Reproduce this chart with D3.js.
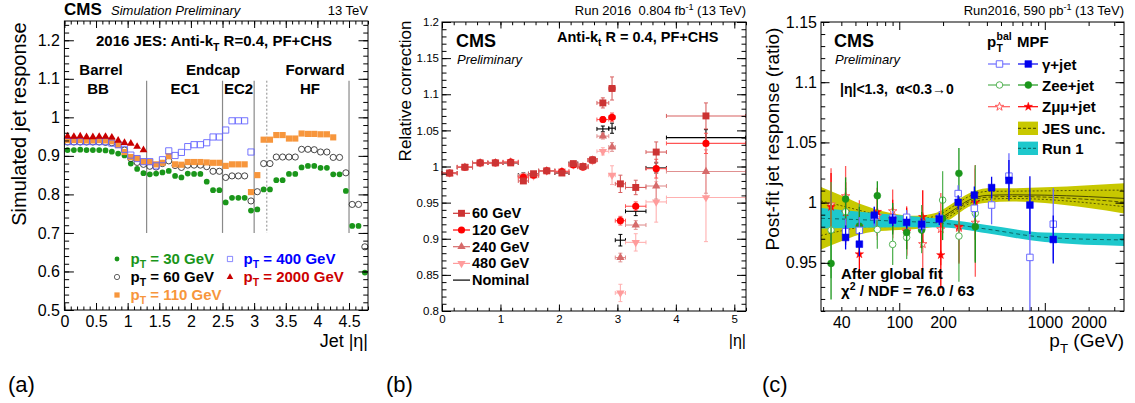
<!DOCTYPE html>
<html>
<head>
<meta charset="utf-8">
<script src="https://cdn.jsdelivr.net/npm/d3@7"></script>
<style>
  body { margin: 0; background: #fff; }
  text { font-family: "Liberation Sans", Arial, Helvetica, sans-serif; }
</style>
</head>
<body>
<svg id="fig" width="1135" height="403"></svg>
<script>
// ---------- (a) simulated response vs |eta| ----------
const etaA = [0.05, 0.15, 0.25, 0.35, 0.45, 0.55, 0.65, 0.75, 0.85, 0.95, 1.05, 1.15, 1.25, 1.35, 1.45, 1.55,
  1.65, 1.75, 1.85, 1.95, 2.05, 2.15, 2.25, 2.35, 2.45, 2.55, 2.65, 2.75, 2.85, 2.95, 3.05, 3.15,
  3.25, 3.35, 3.45, 3.55, 3.65, 3.75, 3.85, 3.95, 4.05, 4.15, 4.25, 4.35, 4.45, 4.55, 4.65, 4.75];
const resp30 = [0.915, 0.915, 0.916, 0.915, 0.915, 0.915, 0.914, 0.911, 0.906, 0.901, 0.880, 0.866, 0.855, 0.852, 0.854, 0.857,
  0.861, 0.848, 0.844, 0.854, 0.853, 0.853, 0.833, 0.811, 0.811, 0.779, 0.791, 0.791, 0.791, 0.758, 0.761, 0.813,
  0.813, 0.837, 0.837, 0.853, 0.853, 0.870, 0.874, 0.874, 0.869, 0.869, 0.852, 0.852, 0.809, 0.718, 0.718, 0.597];
const resp60 = [0.936, 0.936, 0.936, 0.936, 0.936, 0.936, 0.935, 0.934, 0.930, 0.915, 0.893, 0.883, 0.878, 0.873, 0.871, 0.880,
  0.887, 0.875, 0.870, 0.876, 0.876, 0.876, 0.872, 0.860, 0.860, 0.844, 0.848, 0.848, 0.848, 0.783, 0.807, 0.880,
  0.880, 0.897, 0.897, 0.897, 0.897, 0.917, 0.917, 0.916, 0.910, 0.910, 0.896, 0.896, 0.856, 0.774, 0.774, 0.664];
const resp110 = [0.941, 0.941, 0.941, 0.940, 0.940, 0.941, 0.940, 0.938, 0.928, 0.910, 0.897, 0.893, 0.885, 0.884, 0.878, 0.882,
  0.899, 0.878, 0.877, 0.884, 0.884, 0.884, 0.883, 0.882, 0.882, 0.874, 0.878, 0.878, 0.878, 0.806, 0.850, 0.942,
  0.942, 0.954, 0.954, 0.945, 0.945, 0.958, 0.957, 0.957, 0.956, 0.956, 0.948];
const resp400 = [0.937, 0.937, 0.937, 0.937, 0.937, 0.937, 0.937, 0.933, 0.929, 0.917, 0.902, 0.893, 0.885, 0.885, 0.874, 0.890,
  0.913, 0.901, 0.909, 0.924, 0.929, 0.929, 0.934, 0.949, 0.949, 0.967, 0.991, 0.991, 0.991, 0.910];
const resp2000 = [0.951, 0.950, 0.951, 0.949, 0.949, 0.950, 0.950, 0.948, 0.940, 0.934, 0.932, 0.924, 0.915];
const regionLines = [1.3, 2.5, 3.0, 4.5];
const regionDotted = [3.2];

// ---------- (b) relative correction vs |eta| ----------
const etaEdgesB = [0, 0.261, 0.522, 0.783, 1.044, 1.305, 1.479, 1.653, 1.930, 2.172, 2.322, 2.500, 2.650, 2.853, 2.964, 3.139, 3.489, 3.839, 5.191];
const corr60  = [0.991, 0.999, 1.005, 1.005, 1.005, 0.980, 0.990, 0.994, 0.991, 1.004, 1.000, 1.009, 1.088, 1.108, 0.976, 0.971, 1.020, 1.070];
const err60   = [0.002, 0.002, 0.002, 0.002, 0.003, 0.003, 0.002, 0.002, 0.002, 0.003, 0.003, 0.004, 0.007, 0.016, 0.012, 0.010, 0.014, 0.018];
const corr120 = [0.991, 0.999, 1.005, 1.005, 1.006, 0.985, 0.988, 0.994, 0.993, 1.002, 0.999, 1.009, 1.065, 1.068, 0.925, 0.945, 0.997, 1.032];
const err120  = [0.002, 0.002, 0.002, 0.002, 0.003, 0.003, 0.002, 0.002, 0.002, 0.003, 0.003, 0.004, 0.004, 0.006, 0.006, 0.006, 0.013, 0.014];
const corr240 = [0.990, 0.999, 1.005, 1.005, 1.006, 0.986, 0.987, 0.994, 0.993, 1.002, 1.000, 1.009, 1.042, 1.027, 0.874, 0.919, 0.973, 0.993];
const err240  = [0.002, 0.002, 0.002, 0.002, 0.003, 0.003, 0.002, 0.002, 0.002, 0.003, 0.003, 0.004, 0.004, 0.006, 0.006, 0.006, 0.018, 0.030];
const corr480 = [0.991, 1.000, 1.005, 1.006, 1.007, 0.987, 0.987, 0.994, 0.994, 1.002, 1.000, 1.008, 1.021, 0.988, 0.825, 0.895, 0.951, 0.957];
const err480  = [0.002, 0.002, 0.002, 0.002, 0.003, 0.003, 0.002, 0.002, 0.002, 0.003, 0.003, 0.004, 0.005, 0.013, 0.012, 0.012, 0.028, 0.061];
const corrNom = [0.991, 0.999, 1.005, 1.005, 1.005, 0.988, 0.990, 0.994, 0.991, 1.004, 1.000, 1.009, 1.052, 1.053, 0.898, 0.938, 0.998, 1.040];
const errNom  = [0.002, 0.002, 0.002, 0.002, 0.003, 0.003, 0.002, 0.002, 0.002, 0.003, 0.003, 0.004, 0.004, 0.007, 0.008, 0.006, 0.007, 0.011];

// ---------- (c) post-fit response vs pT ----------
const ptGamma = [42.8, 53.2, 67.4, 90.1, 112.4, 142.5, 188.4, 254, 328, 431, 567, 790, 1143];
const mpfGamma = [0.9711, 0.9655, 0.9896, 0.9855, 0.9836, 0.9820, 0.9864, 1.0002, 1.0063, 1.0125, 1.0185, 0.9980, 0.9694];
const mpfGammaErr = [0.010, 0.010, 0.007, 0.005, 0.005, 0.005, 0.005, 0.006, 0.007, 0.009, 0.017, 0.024, 0.020];
const balGamma = [0.9758, 0.9770, 0.9885, 0.9870, 0.9878, 0.9810, 0.9870, 1.0075, 0.9953, 0.9980, 1.0220, 0.9545, 0.9821];
const balGammaErr = [0.011, 0.011, 0.008, 0.006, 0.006, 0.006, 0.006, 0.007, 0.008, 0.016, 0.019, 0.050, 0.030];
const ptZee = [34.0, 42.8, 53.2, 70.7, 90.1, 112.4, 142.5, 198.6, 257, 333];
const mpfZee = [0.9495, 1.0030, 0.9805, 1.0057, 0.9866, 0.9752, 0.9772, 0.9869, 1.0243, 0.9800];
const mpfZeeErr = [0.030, 0.018, 0.016, 0.012, 0.013, 0.014, 0.015, 0.018, 0.021, 0.030];
const balZee = [0.9772, 0.9924, 0.9790, 0.9777, 0.9653, 0.9711, 0.9780, 1.0021, 0.9722, 0.9911];
const balZeeErr = [0.040, 0.020, 0.020, 0.016, 0.017, 0.018, 0.020, 0.024, 0.038, 0.040];
const ptZmm = [34.0, 42.8, 53.2, 70.7, 90.1, 112.4, 145, 193, 257, 333];
const mpfZmm = [0.9965, 0.9919, 0.9572, 0.9924, 0.9864, 0.9758, 0.9882, 0.9565, 0.9801, 1.0001];
const mpfZmmErr = [0.028, 0.025, 0.020, 0.020, 0.016, 0.020, 0.022, 0.028, 0.030, 0.031];
const balZmm = [0.9985, 1.0054, 0.9800, 0.9890, 0.9929, 0.9770, 0.9656, 0.9780, 0.9790, 0.9834];
const balZmmErr = [0.030, 0.025, 0.022, 0.020, 0.018, 0.020, 0.022, 0.030, 0.030, 0.045];
const jesPt  = [29, 40, 60, 90, 130, 180, 230, 300, 400, 600, 1000, 2000, 3500];
const jesMid = [0.987, 0.987, 0.986, 0.984, 0.9835, 0.986, 0.993, 1.002, 1.006, 1.0065, 1.0062, 1.005, 1.0035];
const jesErr = [0.026, 0.019, 0.011, 0.007, 0.0055, 0.0055, 0.006, 0.0055, 0.006, 0.0055, 0.0065, 0.0095, 0.0125];
const run1Pt  = [29, 100, 200, 400, 1000, 3500];
const run1Mid = [0.9870, 0.9845, 0.9828, 0.9780, 0.9712, 0.9690];
const run1Err = [0.0085, 0.005, 0.0035, 0.0035, 0.004, 0.005];

// tick labels
const xTicksA = [0, 0.5, 1, 1.5, 2, 2.5, 3, 3.5, 4, 4.5];
const yTicksA = [0.5, 0.6, 0.7, 0.8, 0.9, 1.0, 1.1, 1.2];
const xTicksB = [0, 1, 2, 3, 4, 5];
const yTicksB = [0.8, 0.85, 0.9, 0.95, 1.0, 1.05, 1.1, 1.15, 1.2];
const xLabelsC = [40, 100, 200, 1000, 2000];
const yTicksC = [0.95, 1.0, 1.05, 1.1, 1.15];

const svg = d3.select("#fig");
const num = v => String(+v.toFixed(2));

function frame(g, x, y, o) {
  const [l, r] = x.range(), [b, t] = y.range();
  const put = (ax, tx, ty) => g.append("g").attr("transform", `translate(${tx},${ty})`)
    .call(ax)
    .call(s => s.select(".domain").remove())
    .call(s => s.selectAll("line").attr("stroke", "#000"))
    .call(s => s.selectAll("text").attr("font-size", o.fs).attr("fill", "#000")
      .attr("font-family", '"Liberation Sans", Arial, sans-serif'));
  put(d3.axisBottom(x).tickValues(o.xMaj).tickSize(-o.xt).tickPadding(o.xpad).tickFormat(o.xLab ? "" : num), 0, b);
  if (o.xLab) put(d3.axisBottom(x).tickValues(o.xLab).tickSize(0).tickPadding(o.xpad).tickFormat(num), 0, b);
  put(d3.axisBottom(x).tickValues(o.xMin).tickSize(-o.xt / 2).tickFormat(""), 0, b);
  put(d3.axisTop(x).tickValues(o.xMaj).tickSize(-o.xt).tickFormat(""), 0, t);
  put(d3.axisTop(x).tickValues(o.xMin).tickSize(-o.xt / 2).tickFormat(""), 0, t);
  put(d3.axisLeft(y).tickValues(o.yMaj).tickSize(-o.yt).tickPadding(o.ypad).tickFormat(num), l, 0);
  put(d3.axisLeft(y).tickValues(o.yMin).tickSize(-o.yt / 2).tickFormat(""), l, 0);
  put(d3.axisRight(y).tickValues(o.yMaj).tickSize(-o.yt).tickFormat(""), r, 0);
  put(d3.axisRight(y).tickValues(o.yMin).tickSize(-o.yt / 2).tickFormat(""), r, 0);
  g.append("rect").attr("x", l).attr("y", t).attr("width", r - l).attr("height", b - t)
    .attr("fill", "none").attr("stroke", "#000").attr("stroke-width", 1);
}

function rich(g, x, y, parts, o = {}) {
  const fs = o.fs || 14;
  const t = g.append("text").attr("x", x).attr("y", y).attr("font-size", fs)
    .attr("font-weight", o.bold ? "bold" : null).attr("font-style", o.it ? "italic" : null)
    .attr("text-anchor", o.anchor || "start").attr("fill", o.fill || "#000");
  let shift = 0;
  parts.forEach(p => {
    const [s, k] = Array.isArray(p) ? p : [p, ""];
    const want = k === "sub" ? 0.3 * fs : k === "sup" ? -0.4 * fs : 0;
    t.append("tspan").attr("dy", want - shift).attr("font-size", k ? 0.7 * fs : null).text(s);
    shift = want;
  });
  return t;
}

function vtitle(g, x, y, s, fs) {
  g.append("text").attr("transform", `translate(${x},${y}) rotate(-90)`)
    .attr("text-anchor", "middle").attr("font-size", fs).text(s);
}

const sym = (type, size) => d3.symbol().type(type).size(size)();

// =============== panel (a) ===============
const gA = svg.append("g");
const xA = d3.scaleLinear().domain([0, 4.8]).range([64.4, 368]);
const yA = d3.scaleLinear().domain([0.5, 1.25]).range([310, 21]);

regionLines.forEach(v => gA.append("line").attr("x1", xA(v)).attr("x2", xA(v))
  .attr("y1", yA(1.095)).attr("y2", yA(0.70)).attr("stroke", "#8a8a8a").attr("stroke-width", 1.2));
regionDotted.forEach(v => gA.append("line").attr("x1", xA(v)).attr("x2", xA(v))
  .attr("y1", yA(1.095)).attr("y2", yA(0.70)).attr("stroke", "#8a8a8a").attr("stroke-dasharray", "2,2"));

const seriesA = [
  { vals: resp30, path: sym(d3.symbolCircle, 26), fill: "#1a961a", stroke: "none" },
  { vals: resp60, path: sym(d3.symbolCircle, 30), fill: "none", stroke: "#333" },
  { vals: resp110, path: sym(d3.symbolSquare, 38), fill: "#f7963c", stroke: "none" },
  { vals: resp400, path: sym(d3.symbolSquare, 38), fill: "none", stroke: "#6464ff" },
  { vals: resp2000, path: sym(d3.symbolTriangle, 26), fill: "#c80000", stroke: "none" }
];
seriesA.forEach(s => {
  gA.append("g").selectAll("path")
    .data(s.vals.map((v, i) => [etaA[i], v]))
    .join("path")
    .attr("d", s.path)
    .attr("transform", d => `translate(${xA(d[0])},${yA(d[1])})`)
    .attr("fill", s.fill).attr("stroke", s.stroke).attr("stroke-width", 0.9);
});

frame(gA, xA, yA, {
  xMaj: xTicksA, xMin: d3.range(0, 4.81, 0.1), yMaj: yTicksA, yMin: d3.range(0.5, 1.25, 0.02),
  xt: 7, yt: 9.5, xpad: 6, ypad: 4.5, fs: 16
});

rich(gA, 64, 15, ["CMS"], { fs: 17, bold: true });
rich(gA, 111, 15, ["Simulation Preliminary"], { fs: 13, it: true });
rich(gA, 368, 15, ["13 TeV"], { fs: 13, anchor: "end" });
rich(gA, 214, 46, ["2016 JES: Anti-k", ["T", "sub"], " R=0.4, PF+CHS"], { fs: 15, bold: true, anchor: "middle" });
[["Barrel", 101, 75], ["BB", 98, 94], ["Endcap", 213, 75], ["EC1", 185, 94], ["EC2", 238.5, 94],
 ["Forward", 315, 75], ["HF", 310, 94]].forEach(([s, x, y]) =>
  rich(gA, x, y, [s], { fs: 15, bold: true, anchor: "middle" }));
vtitle(gA, 26, 124, "Simulated jet response", 20);
rich(gA, 368, 347, ["Jet |η|"], { fs: 18, anchor: "end" });

const legA = [
  { t: "30", c: "#1a961a", x: 117, y: 259, s: 0 },
  { t: "60", c: "#000", x: 117, y: 277, s: 1 },
  { t: "110", c: "#f7963c", x: 117, y: 295, s: 2 },
  { t: "400", c: "#0000ff", x: 230, y: 259, s: 3 },
  { t: "2000", c: "#cc0000", x: 230, y: 277, s: 4 }
];
legA.forEach(d => {
  const s = seriesA[d.s];
  gA.append("path").attr("d", s.path).attr("transform", `translate(${d.x},${d.y}) scale(0.85)`)
    .attr("fill", s.fill).attr("stroke", s.stroke).attr("stroke-width", 0.9);
  rich(gA, d.x + 13.5, d.y + 4.5, ["p", ["T", "sub"], ` = ${d.t} GeV`], { fs: 15, bold: true, fill: d.c });
});

// =============== panel (b) ===============
const gB = svg.append("g");
const xB = d3.scaleLinear().domain([0, 5.2]).range([442, 746]);
const yB = d3.scaleLinear().domain([0.8, 1.2]).range([311, 22]);

const seriesB = [
  { name: "Nominal", vals: corrNom, errs: errNom, col: "#000", bar: "#000", path: null },
  { name: "480 GeV", vals: corr480, errs: err480, col: "#ff9c9c", bar: "#ffb0b0", path: sym(d3.symbolTriangle, 30), flip: true },
  { name: "240 GeV", vals: corr240, errs: err240, col: "#d66a6a", bar: "#e09090", path: sym(d3.symbolTriangle, 30) },
  { name: "120 GeV", vals: corr120, errs: err120, col: "#ff0000", bar: "#ff5555", path: sym(d3.symbolCircle, 40) },
  { name: "60 GeV", vals: corr60, errs: err60, col: "#cc3333", bar: "#d86060", path: sym(d3.symbolSquare, 48) }
];
const binsB = etaEdgesB.slice(0, -1).map((lo, i) => ({ lo, hi: etaEdgesB[i + 1], c: (lo + etaEdgesB[i + 1]) / 2 }));

seriesB.forEach(s => {
  const g = gB.append("g");
  binsB.forEach((b, i) => {
    const v = s.vals[i], e = s.errs[i], cy = yB(v), cx = xB(b.c);
    g.append("line").attr("x1", xB(b.lo)).attr("x2", xB(b.hi)).attr("y1", cy).attr("y2", cy)
      .attr("stroke", s.bar).attr("stroke-width", 1.1);
    g.append("line").attr("x1", cx).attr("x2", cx).attr("y1", yB(v - e)).attr("y2", yB(v + e))
      .attr("stroke", s.bar).attr("stroke-width", 1.1);
    [v - e, v + e].forEach(w => g.append("line").attr("x1", cx - 2).attr("x2", cx + 2)
      .attr("y1", yB(w)).attr("y2", yB(w)).attr("stroke", s.bar));
    [b.lo, b.hi].forEach(w => g.append("line").attr("x1", xB(w)).attr("x2", xB(w))
      .attr("y1", cy - 2).attr("y2", cy + 2).attr("stroke", s.bar));
    if (s.path) g.append("path").attr("d", s.path)
      .attr("transform", `translate(${cx},${cy})${s.flip ? " rotate(180)" : ""}`).attr("fill", s.col);
  });
});

frame(gB, xB, yB, {
  xMaj: xTicksB, xMin: d3.range(0, 5.21, 0.2), yMaj: yTicksB, yMin: d3.range(0.8, 1.2001, 0.01),
  xt: 6.5, yt: 9, xpad: 4, ypad: 3, fs: 11.5
});
rich(gB, 746, 15, ["Run 2016\u00a0\u00a00.804 fb", ["-1", "sup"], " (13 TeV)"], { fs: 13, anchor: "end" });
rich(gB, 456, 47, ["CMS"], { fs: 18, bold: true });
rich(gB, 457, 63.5, ["Preliminary"], { fs: 13, it: true });
rich(gB, 557, 42, ["Anti-k", ["t", "sub"], " R = 0.4, PF+CHS"], { fs: 14.5, bold: true });
vtitle(gB, 411, 91, "Relative correction", 17);
rich(gB, 746, 346, ["|η|"], { fs: 16, anchor: "end" });

seriesB.slice().reverse().forEach((s, i) => {
  const y = 213.3 + i * 16.7;
  gB.append("line").attr("x1", 453).attr("x2", 470).attr("y1", y).attr("y2", y).attr("stroke", s.col).attr("stroke-width", 1.2);
  if (s.path) gB.append("path").attr("d", s.path)
    .attr("transform", `translate(461.5,${y})${s.flip ? " rotate(180)" : ""}`).attr("fill", s.col);
  rich(gB, 472, y + 5, [s.name], { fs: 14.5, bold: true });
});

// =============== panel (c) ===============
const gC = svg.append("g");
const xC = d3.scaleLog().domain([29, 3500]).range([821, 1124]);
const yC = d3.scaleLinear().domain([0.91, 1.15]).range([311, 22]);
svg.append("clipPath").attr("id", "clipC").append("rect")
  .attr("x", 821).attr("y", 22).attr("width", 303).attr("height", 289);
const plotC = gC.append("g").attr("clip-path", "url(#clipC)");

function band(pts, mid, err, fill, lines) {
  const rows = pts.map((p, i) => ({ p, m: mid[i], e: err[i] }));
  plotC.append("path").datum(rows).attr("fill", fill)
    .attr("d", d3.area().curve(d3.curveMonotoneX).x(d => xC(d.p)).y0(d => yC(d.m - d.e)).y1(d => yC(d.m + d.e)));
  lines.forEach(([k, dash, col]) => plotC.append("path").datum(rows).attr("fill", "none")
    .attr("stroke", col).attr("stroke-width", 0.9).attr("stroke-dasharray", dash)
    .attr("d", d3.line().curve(d3.curveMonotoneX).x(d => xC(d.p)).y(d => yC(d.m + k * d.e))));
}
band(jesPt, jesMid, jesErr, "#c8c800", [[0, null, "#3c3c00"], [0.55, "2,2", "#4a4a00"], [-0.55, "2,2", "#4a4a00"], [-0.25, "4,2", "#4a4a00"]]);
band(run1Pt, run1Mid, run1Err, "#1ec8cc", [[0, "4,3", "#0a5a5a"]]);

const star = sym(d3.symbolStar, 22);
const seriesC = [
  { pt: ptZmm, v: balZmm, e: balZmmErr, path: star, col: "#ff5a5a", open: true },
  { pt: ptZmm, v: mpfZmm, e: mpfZmmErr, path: star, col: "#ff0000", open: false },
  { pt: ptZee, v: balZee, e: balZeeErr, path: sym(d3.symbolCircle, 34), col: "#55b355", open: true },
  { pt: ptZee, v: mpfZee, e: mpfZeeErr, path: sym(d3.symbolCircle, 38), col: "#1a961a", open: false },
  { pt: ptGamma, v: balGamma, e: balGammaErr, path: sym(d3.symbolSquare, 42), col: "#6b6bff", open: true },
  { pt: ptGamma, v: mpfGamma, e: mpfGammaErr, path: sym(d3.symbolSquare, 46), col: "#0000ee", open: false }
];
seriesC.forEach(s => {
  const rows = s.pt.map((p, i) => ({ p, v: s.v[i], e: s.e[i] }));
  const g = plotC.append("g");
  g.selectAll("line").data(rows).join("line")
    .attr("x1", d => xC(d.p)).attr("x2", d => xC(d.p))
    .attr("y1", d => yC(d.v - d.e)).attr("y2", d => yC(d.v + d.e))
    .attr("stroke", s.col).attr("stroke-width", 1.3);
  g.selectAll("path").data(rows).join("path").attr("d", s.path)
    .attr("transform", d => `translate(${xC(d.p)},${yC(d.v)})`)
    .attr("fill", s.open ? "#fff" : s.col).attr("stroke", s.col).attr("stroke-width", s.open ? 1 : 0.5);
});

frame(gC, xC, yC, {
  xMaj: [100, 1000], xLab: xLabelsC, xMin: [30, 40, 50, 60, 70, 80, 90, 200, 300, 400, 500, 600, 700, 800, 900, 2000, 3000],
  yMaj: yTicksC, yMin: d3.range(0.91, 1.1501, 0.01), xt: 8, yt: 8.5, xpad: 5.5, ypad: 4, fs: 16
});
rich(gC, 1124, 15, ["Run2016, 590 pb", ["-1", "sup"], " (13 TeV)"], { fs: 13, anchor: "end" });
rich(gC, 834, 47, ["CMS"], { fs: 18, bold: true });
rich(gC, 835, 64, ["Preliminary"], { fs: 13, it: true });
rich(gC, 840, 93.5, ["|η|<1.3,\u00a0\u00a0α<0.3→0"], { fs: 14, bold: true });
rich(gC, 841, 278.5, ["After global fit"], { fs: 15, bold: true });
rich(gC, 841, 295.5, ["χ", ["2", "sup"], " / NDF = 76.0 / 63"], { fs: 15, bold: true });
vtitle(gC, 779, 139, "Post-fit jet response (ratio)", 19);
rich(gC, 1124, 347, ["p", ["T", "sub"], " (GeV)"], { fs: 19, anchor: "end" });

// legend (c)
rich(gC, 987, 46.7, ["p"], { fs: 15, bold: true });
rich(gC, 996.5, 40, ["bal"], { fs: 10.5, bold: true });
rich(gC, 996.5, 52, ["T"], { fs: 10.5, bold: true });
rich(gC, 1017, 46.7, ["MPF"], { fs: 15, bold: true });
const legC = [
  { t: "γ+jet", y: 64, open: seriesC[4], closed: seriesC[5] },
  { t: "Zee+jet", y: 85, open: seriesC[2], closed: seriesC[3] },
  { t: "Zμμ+jet", y: 106.7, open: seriesC[0], closed: seriesC[1] }
];
legC.forEach(d => {
  [[988, 1010, 999.5, d.open], [1018, 1038, 1028.3, d.closed]].forEach(([a, b, m, s]) => {
    gC.append("line").attr("x1", a).attr("x2", b).attr("y1", d.y).attr("y2", d.y).attr("stroke", s.col).attr("stroke-width", 1.2);
    gC.append("path").attr("d", s.path).attr("transform", `translate(${m},${d.y})`)
      .attr("fill", s.open ? "#fff" : s.col).attr("stroke", s.col).attr("stroke-width", s.open ? 1 : 0.5);
  });
  rich(gC, 1042, d.y + 5.5, [d.t], { fs: 15, bold: true });
});
[["JES unc.", 128.3, "#c8c800", "#3c3c00"], ["Run 1", 148.3, "#1ec8cc", "#0a5a5a"]].forEach(([t, y, f, l]) => {
  gC.append("rect").attr("x", 1018).attr("y", y - 6.7).attr("width", 20).attr("height", 13.4).attr("fill", f);
  gC.append("line").attr("x1", 1018).attr("x2", 1038).attr("y1", y).attr("y2", y)
    .attr("stroke", l).attr("stroke-dasharray", "3,2");
  rich(gC, 1042, y + 5.5, [t], { fs: 15, bold: true });
});

// panel letters
[["(a)", 8], ["(b)", 386], ["(c)", 762]].forEach(([s, x]) =>
  svg.append("text").attr("x", x).attr("y", 392).attr("font-size", 22)
    .attr("font-family", '"Liberation Serif", "Times New Roman", serif').text(s));
</script>
</body>
</html>
